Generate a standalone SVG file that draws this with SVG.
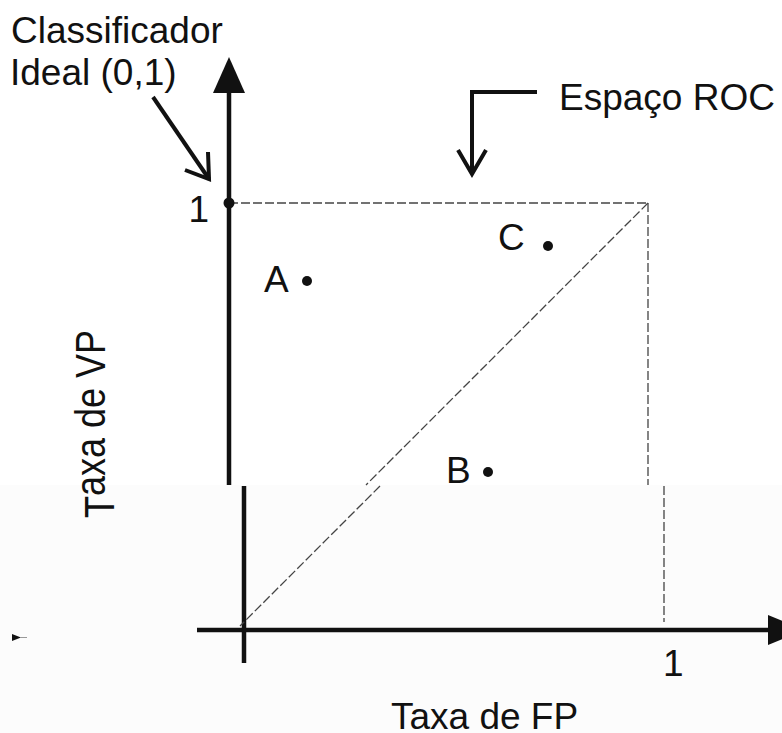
<svg xmlns="http://www.w3.org/2000/svg" width="782" height="733" viewBox="0 0 782 733">
<style>
  .t { font-family: "Liberation Sans", Arial, sans-serif; font-size: 37px; fill: #111; }
  .ax { stroke: #111; stroke-width: 4.5; fill: none; }
  .ptr { stroke: #111; stroke-width: 4; fill: none; stroke-linecap: butt; stroke-linejoin: miter; }
  .dash { stroke: #444; stroke-width: 1.3; fill: none; stroke-dasharray: 9 3; }
  .dot { fill: #111; }
</style>
<rect x="0" y="0" width="782" height="733" fill="#ffffff"/>
<rect x="0" y="485" width="782" height="248" fill="#fcfcfc"/>
<g id="connectors">
  <line class="ax" x1="229" y1="90" x2="229" y2="485"/>
  <polygon points="229,57 213,93 245,93" fill="#111"/>
  <line class="dash" x1="229" y1="203" x2="648" y2="203"/>
  <line class="dash" x1="648" y1="203" x2="648" y2="485"/>
  <line class="dash" x1="648" y1="203" x2="366" y2="485"/>
  <polyline class="ptr" points="153,97 209,179"/>
  <polyline class="ptr" points="185,170 209,179 208,152"/>
  <polyline class="ptr" points="537,92 472,92 472,174"/>
  <polyline class="ptr" points="458,150 472,174 486,150"/>
  <line class="ax" x1="244" y1="486" x2="244" y2="663"/>
  <line class="ax" x1="197" y1="630" x2="772" y2="630"/>
  <polygon points="768,615 805,630 768,645" fill="#111"/>
  <line class="dash" x1="380" y1="486" x2="240" y2="626"/>
  <line class="dash" x1="664" y1="486" x2="664" y2="622"/>
  <polygon points="12,634 21,637.5 12,641" fill="#111"/>
  <line x1="20" y1="637.5" x2="27" y2="637.5" stroke="#999" stroke-width="1"/>
</g>
<g id="label-classificador">
  <text class="t" x="11" y="43">Classificador</text>
  <text class="t" x="10" y="85">Ideal (0,1)</text>
</g>
<g id="label-espaco-roc">
  <text class="t" x="559" y="110">Espaço ROC</text>
</g>
<g id="point-ideal">
  <circle class="dot" cx="229" cy="203" r="5.5"/>
  <text class="t" x="209" y="222" text-anchor="end">1</text>
</g>
<g id="point-a">
  <text class="t" x="264" y="292">A</text>
  <circle class="dot" cx="307" cy="281" r="5"/>
</g>
<g id="point-c">
  <text class="t" x="498" y="250">C</text>
  <circle class="dot" cx="548" cy="246" r="5"/>
</g>
<g id="point-b">
  <text class="t" x="446" y="483">B</text>
  <circle class="dot" cx="488" cy="472" r="5"/>
</g>
<g id="tick-x1">
  <text class="t" x="663" y="676">1</text>
</g>
<g id="label-taxa-fp">
  <text class="t" x="391" y="729">Taxa de FP</text>
</g>
<g id="label-taxa-vp">
  <text class="t" style="font-size:36px" transform="translate(105,518) rotate(-90) scale(1,1.16)"><tspan dy="8">T</tspan><tspan dy="-8">axa de VP</tspan></text>
</g>
</svg>
